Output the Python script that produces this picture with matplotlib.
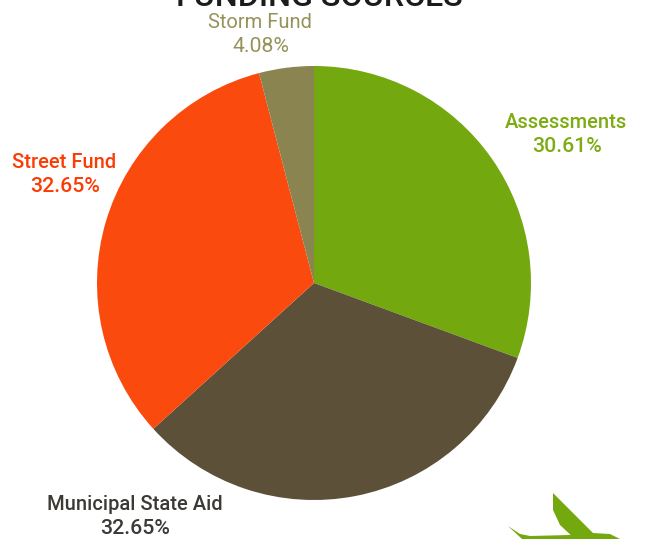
import matplotlib
matplotlib.use("Agg")
import matplotlib.pyplot as plt
from matplotlib.patches import Polygon

plt.rcParams["font.family"] = ["Roboto", "DejaVu Sans"]

categories = ["Assessments", "Municipal State Aid", "Street Fund", "Storm Fund"]
shares = [30.61, 32.65, 32.65, 4.08]
share_labels = ["30.61%", "32.65%", "32.65%", "4.08%"]
colors = ["#74a80f", "#5c5039", "#fb4a0e", "#8a8450"]
label_colors = ["#7cab12", "#3c3a35", "#fb3c05", "#96935a"]
label_weights = ["medium", "medium", "medium", "normal"]
label_pos = [(566, 122), (135, 504), (64, 163), (260, 22)]
pct_pos = [(567, 147), (135, 528), (65, 187), (261, 46)]

fig = plt.figure(figsize=(6.45, 5.39), dpi=100)
ax = fig.add_axes([0, 0, 1, 1])

ax.pie(shares, colors=colors, startangle=90, counterclock=False,
       center=(314, 539 - 283), radius=217, frame=True,
       wedgeprops={"linewidth": 0})

# axes in picture pixels so the labels can sit where they do in the scan
ax.set_xlim(0, 645)
ax.set_ylim(0, 539)
ax.set_aspect("equal")
ax.axis("off")

for i in range(len(categories)):
    ax.text(label_pos[i][0], 539 - label_pos[i][1], categories[i], color=label_colors[i],
            fontsize=14.5, ha="center", va="center", weight=label_weights[i])
    ax.text(pct_pos[i][0], 539 - pct_pos[i][1], share_labels[i], color=label_colors[i],
            fontsize=15.3, ha="center", va="center", weight=label_weights[i])

# title is cut by the top edge of the scan
ax.text(319, 539 + 2, "FUNDING SOURCES", color="#1c1c1c", fontsize=23.2,
        ha="center", va="center", weight="medium", clip_on=True)

# leaf at the bottom right corner
leaf1 = [(553, 493), (565, 505), (580, 520), (593, 533), (600, 539),
         (575, 539), (560, 525), (553, 510)]
leaf2 = [(508, 526), (520, 534), (530, 536), (570, 535), (593, 533),
         (610, 534), (620, 539), (522, 539)]
ax.add_patch(Polygon([(x, 539 - y) for x, y in leaf1], color="#74a80f", lw=0))
ax.add_patch(Polygon([(x, 539 - y) for x, y in leaf2], color="#74a80f", lw=0))

fig.savefig("out.png", dpi=100)
